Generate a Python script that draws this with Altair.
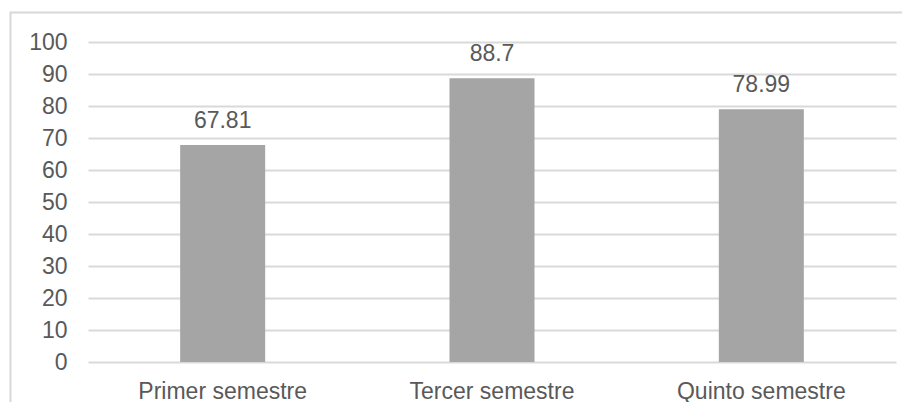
import altair as alt
import pandas as pd

categories = ["Primer semestre", "Tercer semestre", "Quinto semestre"]
values = [67.81, 88.7, 78.99]
labels = ["67.81", "88.7", "78.99"]
yticks = [0, 10, 20, 30, 40, 50, 60, 70, 80, 90, 100]

df = pd.DataFrame({"cat": categories, "val": values, "lab": labels})

FONT = "Liberation Sans"
TXT = "#595959"
GRID = "#D9D9D9"

x_enc = alt.X("cat:N", sort=categories, title=None,
              scale=alt.Scale(paddingInner=0, paddingOuter=0),
              axis=alt.Axis(labelAngle=0, ticks=False, domain=False, labelPadding=18,
                            labelFontSize=23, labelFont=FONT, labelColor=TXT, grid=False))
y_enc = alt.Y("val:Q", title=None,
              scale=alt.Scale(domain=[0, 100], nice=False),
              axis=alt.Axis(values=yticks, ticks=False, domain=False,
                            labelOverlap=False,
                            labelPadding=21, labelFontSize=23, labelFont=FONT,
                            labelColor=TXT, gridColor=GRID, gridWidth=2))

base = alt.Chart(df).encode(x=x_enc, y=y_enc)

bars = base.mark_bar(color="#A5A5A5", size=85)

text = base.mark_text(font=FONT, fontSize=23, color=TXT, baseline="alphabetic",
                      dy=-17).encode(text="lab:N")

border = alt.Chart(df).mark_rect(fill=None, stroke=GRID, strokeWidth=1.5).encode(
    x=alt.value(-77.5), x2=alt.value(840), y=alt.value(-29.5), y2=alt.value(400))

chart = alt.layer(border, bars, text).properties(
    width=808, height=320,
    autosize=alt.AutoSizeParams(type="none"),
    padding={"left": 80, "top": 34, "right": 6, "bottom": 40},
    background="white",
).configure_view(stroke=None)

chart.save("out.html", embed_options={"renderer": "svg", "actions": False})
